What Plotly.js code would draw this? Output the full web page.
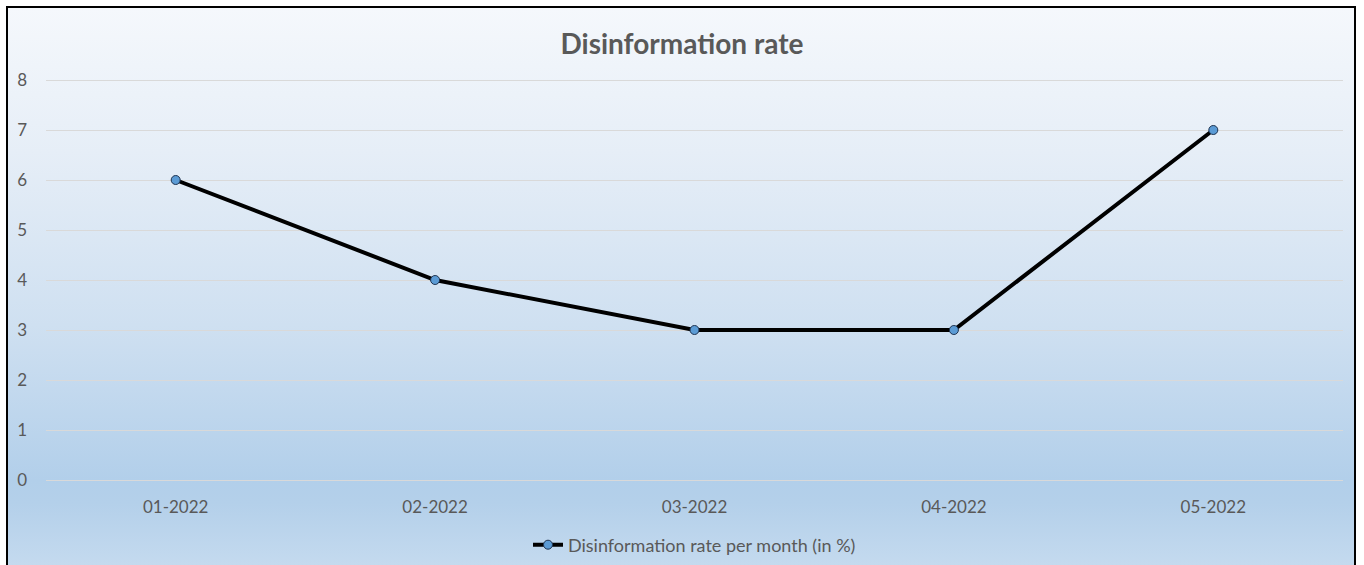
<!DOCTYPE html>
<html>
<head>
<meta charset="utf-8">
<script src="https://cdn.plot.ly/plotly-3.0.1.min.js"></script>
<style>
  html, body { margin:0; padding:0; background:#ffffff; width:1364px; height:565px; overflow:hidden; }
  #bg { position:absolute; left:6px; top:6px; width:1350px; height:580px;
        border:2px solid #000; box-sizing:border-box;
        background: linear-gradient(to bottom, #f5f8fc 0%, #e6eef7 25%, #cfe0f1 55%, #b2cfea 82%, #b4d0ea 86%, #c9ddf0 100%); }
  #chart { position:absolute; left:0; top:0; width:1364px; height:565px; }
</style>
</head>
<body>
<div id="bg"></div>
<div id="chart"></div>
<script>
const categories = ["01-2022", "02-2022", "03-2022", "04-2022", "05-2022"];
const rates = [6, 4, 3, 3, 7];
const seriesName = "Disinformation rate per month (in %)";
const chartTitle = "Disinformation rate";

const font = "Lato, 'Open Sans', sans-serif";

const trace = {
  x: categories,
  y: rates,
  type: "scatter",
  mode: "lines+markers",
  name: seriesName,
  line: { color: "#000000", width: 4 },
  marker: { symbol: "circle", size: 9, color: "#5b9bd5", line: { color: "#1f3350", width: 1 } },
  showlegend: true
};

const layout = {
  width: 1364,
  height: 565,
  paper_bgcolor: "rgba(0,0,0,0)",
  plot_bgcolor: "rgba(0,0,0,0)",
  margin: { l: 45.5, r: 21, t: 75, b: 80 },
  title: {
    text: "<b>" + chartTitle + "</b>",
    font: { family: font, size: 28, color: "#595959" },
    x: 0.5, xanchor: "center",
    y: 1 - 44/565, yanchor: "middle", yref: "container"
  },
  xaxis: {
    type: "category",
    range: [-0.5, 4.5],
    showgrid: false,
    zeroline: false,
    showline: false,
    ticks: "",
    ticklabelstandoff: 10,
    tickfont: { family: font, size: 17, color: "#595959" },
    fixedrange: true
  },
  yaxis: {
    range: [-0.1, 8.1],
    tickvals: [0, 1, 2, 3, 4, 5, 6, 7, 8],
    showgrid: true,
    gridcolor: "#d9d9d9",
    gridwidth: 1,
    zeroline: false,
    showline: false,
    ticks: "",
    ticklabelstandoff: 18,
    tickfont: { family: font, size: 17, color: "#595959" },
    fixedrange: true
  },
  legend: {
    orientation: "h",
    x: 0.5, xanchor: "center",
    y: 20/565, yanchor: "middle", yref: "container",
    font: { family: font, size: 18, color: "#595959" },
    bgcolor: "rgba(0,0,0,0)",
    itemwidth: 30
  },
  showlegend: true
};

Plotly.newPlot("chart", [trace], layout, { displayModeBar: false, staticPlot: true });
</script>
</body>
</html>
